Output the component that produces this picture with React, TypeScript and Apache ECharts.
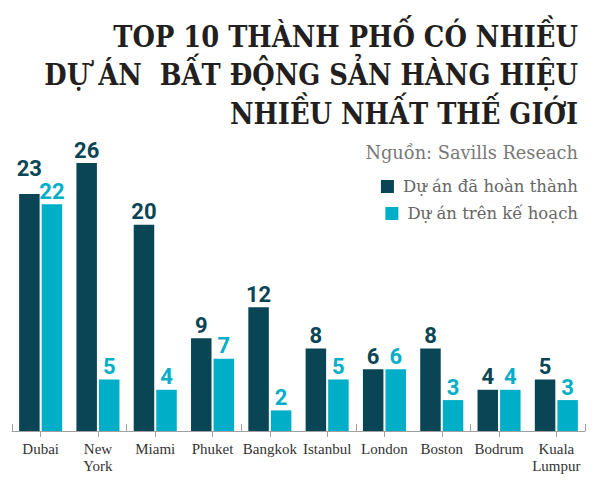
import React, { useEffect, useRef } from "react";
import * as echarts from "echarts";

const cities = ["Dubai", "New York", "Miami", "Phuket", "Bangkok", "Istanbul", "London", "Boston", "Bodrum", "Kuala Lumpur"];
const completed = [23, 26, 20, 9, 12, 8, 6, 8, 4, 5];
const planned = [22, 5, 4, 7, 2, 5, 6, 3, 4, 3];
const seriesNames = ["Dự án đã hoàn thành", "Dự án trên kế hoạch"];
const titleLines = ["TOP 10 THÀNH PHỐ CÓ NHIỀU", "DỰ ÁN  BẤT ĐỘNG SẢN HÀNG HIỆU", "NHIỀU NHẤT THẾ GIỚI"];
const sourceText = "Nguồn: Savills Reseach";

const DARK = "#0a4555";
const LIGHT = "#00aec8";

export default function App() {
  const ref = useRef<HTMLDivElement>(null);
  useEffect(() => {
    const chart = echarts.init(ref.current!, null, { renderer: "svg" });
    const labelBase = { show: true, position: "top", distance: 2, fontFamily: "Roboto", fontWeight: "bold", fontSize: 22 };
    const titleYs = [37, 75, 114];
    chart.setOption({
      animation: false,
      backgroundColor: "#ffffff",
      grid: { left: 12, right: 15, top: 163, bottom: 59, containLabel: false },
      legend: seriesNames.map((n, i) => ({
        data: [n],
        right: 22,
        top: 178 + i * 27,
        padding: 0,
        icon: "rect",
        itemWidth: 13,
        itemHeight: 13,
        selectedMode: false,
        textStyle: { fontFamily: "DejaVu Serif", fontSize: 16.5, color: "#666", padding: [0, 0, 0, 4] },
      })),
      xAxis: [
        {
          type: "category",
          data: cities,
          boundaryGap: true,
          axisLine: { lineStyle: { color: "#a0a0a0", width: 1 } },
          axisTick: { show: true, inside: true, length: 7, lineStyle: { color: "#a0a0a0" } },
          axisLabel: { show: false },
        },
        {
          type: "category",
          data: cities,
          position: "bottom",
          axisLine: { show: false },
          axisTick: { show: true, alignWithLabel: true, length: 6, lineStyle: { color: "#a0a0a0" } },
          axisLabel: {
            interval: 0,
            margin: 10,
            fontFamily: "Liberation Serif",
            fontSize: 15,
            lineHeight: 16.5,
            color: "#333",
            formatter: (v: string) => v.replace(" ", "\n"),
          },
        },
      ],
      yAxis: { type: "value", min: 0, max: 26, show: false },
      series: [
        {
          name: seriesNames[0],
          type: "bar",
          xAxisIndex: 0,
          barWidth: 20.5,
          barGap: "10%",
          itemStyle: { color: DARK },
          label: { ...labelBase, color: DARK },
          data: completed.map((v, i) => (i === 0 ? { value: v, label: { distance: 14 } } : v)),
        },
        {
          name: seriesNames[1],
          type: "bar",
          xAxisIndex: 0,
          barWidth: 20.5,
          barGap: "10%",
          itemStyle: { color: LIGHT },
          label: { ...labelBase, color: LIGHT },
          data: planned,
        },
      ],
      graphic: [
        ...titleLines.map((t, i) => ({
          type: "text",
          x: 578,
          y: titleYs[i],
          scaleX: 0.86,
          style: {
            text: t,
            align: "right",
            verticalAlign: "middle",
            fontFamily: "DejaVu Serif",
            fontWeight: "bold",
            fontSize: 30,
            fill: "#231f20",
          },
        })),
        {
          type: "text",
          x: 578,
          y: 152,
          style: {
            text: sourceText,
            align: "right",
            verticalAlign: "middle",
            fontFamily: "DejaVu Serif",
            fontSize: 17.8,
            fill: "#777",
          },
        },
      ],
    });
    return () => chart.dispose();
  }, []);
  return <div ref={ref} style={{ position: "absolute", left: 0, top: 0, width: 600, height: 490 }} />;
}
